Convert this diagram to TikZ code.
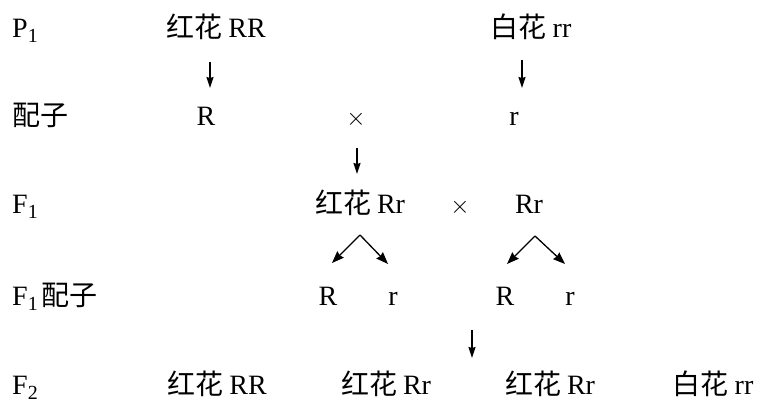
\documentclass[tikz,border=0pt]{standalone}
\usepackage{fontspec}
\setmainfont{Liberation Serif}
\newfontfamily\cjk{Noto Sans CJK SC}
\usetikzlibrary{arrows.meta}
\tikzset{
  lbl/.style={inner sep=0pt, anchor=base, font=\fontsize{28bp}{30bp}\selectfont},
  lft/.style={lbl, anchor=base west},
  arr/.style={line width=1.4bp, -{Stealth[length=11bp,width=7bp,inset=1bp]}},
  sarr/.style={line width=1.3bp, -{Stealth[length=12bp,width=9bp,inset=1bp]}}
}
\newcommand{\hh}{{\cjk\fontsize{28bp}{30bp}\selectfont 红花}\hspace{6bp}}
\newcommand{\bh}{{\cjk\fontsize{28bp}{30bp}\selectfont 白花}\hspace{6bp}}
\newcommand{\pz}{{\cjk\fontsize{28bp}{30bp}\selectfont 配子}}
\newcommand{\sbs}[1]{\raisebox{-5bp}{\fontsize{20bp}{20bp}\selectfont #1}}
\begin{document}
\begin{tikzpicture}[x=1bp,y=-1bp]
\useasboundingbox (0,0) rectangle (758,402);
% row 1
\node[lft] (p1) at (12,37) {P\sbs{1}};
\node[lbl] (hRR) at (216,37) {\hh RR};
\node[lbl] (brr) at (531,37) {\bh rr};
% row 2
\node[lft] (pzl) at (12,125) {\pz};
\node[lbl] (gR) at (206,125) {R};
\node[lbl] (x1) at (356,125) {$\times$};
\node[lbl] (gr) at (514,125) {r};
% row 3
\node[lft] (f1) at (12,213) {F\sbs{1}};
\node[lbl] (f1a) at (360,213) {\hh Rr};
\node[lbl] (x2) at (460,213) {$\times$};
\node[lbl] (f1b) at (529,213) {Rr};
% row 4
\node[lft] (f1pz) at (12,305) {F\sbs{1}\hspace{4bp}\pz};
\node[lbl] (g1) at (328,305) {R};
\node[lbl] (g2) at (393,305) {r};
\node[lbl] (g3) at (505,305) {R};
\node[lbl] (g4) at (570,305) {r};
% row 5
\node[lft] (f2) at (12,394) {F\sbs{2}};
\node[lbl] (c1) at (217,394) {\hh RR};
\node[lbl] (c2) at (386,394) {\hh Rr};
\node[lbl] (c3) at (550,394) {\hh Rr};
\node[lbl] (c4) at (713,394) {\bh rr};
% arrow end points
\coordinate (a1s) at (210,62);  \coordinate (a1e) at (210,88);
\coordinate (a2s) at (522,60);  \coordinate (a2e) at (522,88);
\coordinate (a3s) at (357,148); \coordinate (a3e) at (357,174);
\coordinate (sp1) at (360,235); \coordinate (sp1l) at (332,263); \coordinate (sp1r) at (388,264);
\coordinate (sp2) at (535,236); \coordinate (sp2l) at (507,264); \coordinate (sp2r) at (565,264);
\coordinate (a4s) at (472,330); \coordinate (a4e) at (472,358);
% arrows
\draw[arr] (a1s) -- (a1e);
\draw[arr] (a2s) -- (a2e);
\draw[arr] (a3s) -- (a3e);
\draw[sarr] (sp1) -- (sp1l);
\draw[sarr] (sp1) -- (sp1r);
\draw[sarr] (sp2) -- (sp2l);
\draw[sarr] (sp2) -- (sp2r);
\draw[arr] (a4s) -- (a4e);
\end{tikzpicture}
\end{document}
